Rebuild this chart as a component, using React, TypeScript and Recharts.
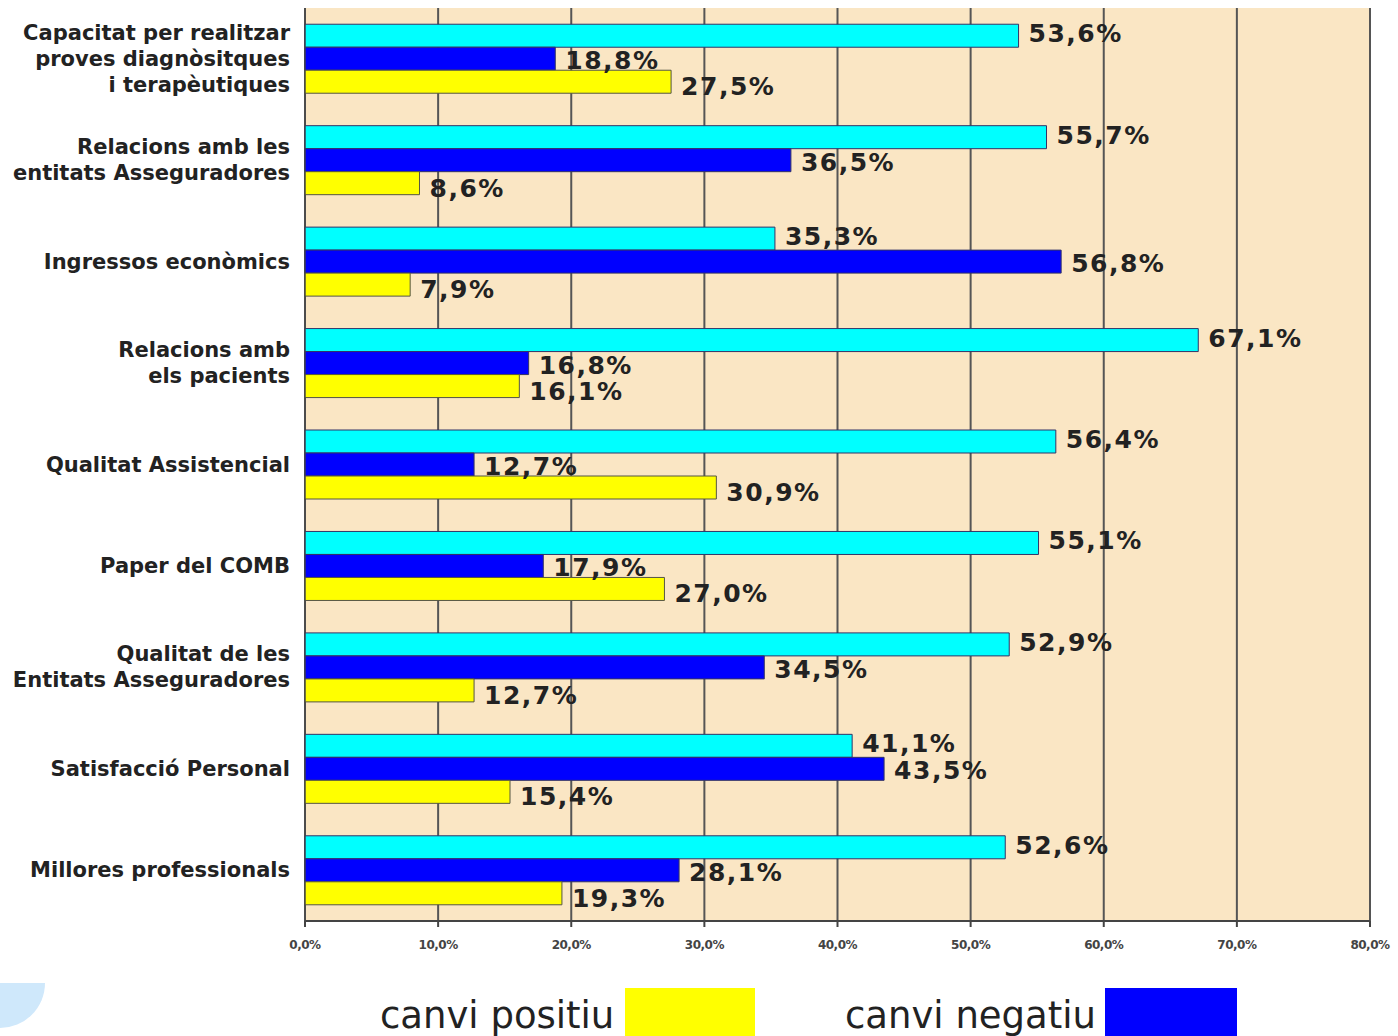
import React from 'react'
import { BarChart, Bar, XAxis, YAxis, CartesianGrid, LabelList } from 'recharts'

const categories = [
  'Capacitat per realitzar\nproves diagnòsitques\ni terapèutiques',
  'Relacions amb les\nentitats Asseguradores',
  'Ingressos econòmics',
  'Relacions amb\nels pacients',
  'Qualitat Assistencial',
  'Paper del COMB',
  'Qualitat de les\nEntitats Asseguradores',
  'Satisfacció Personal',
  'Millores professionals'
]

const senseCanvi = [53.6, 55.7, 35.3, 67.1, 56.4, 55.1, 52.9, 41.1, 52.6]
const canviNegatiu = [18.8, 36.5, 56.8, 16.8, 12.7, 17.9, 34.5, 43.5, 28.1]
const canviPositiu = [27.5, 8.6, 7.9, 16.1, 30.9, 27.0, 12.7, 15.4, 19.3]

const xTicks = [0, 10, 20, 30, 40, 50, 60, 70, 80]

const data = categories.map((name, i) => ({
  name,
  sense: senseCanvi[i],
  negatiu: canviNegatiu[i],
  positiu: canviPositiu[i]
}))

const pct = (v: number) => `${v.toFixed(1).replace('.', ',')}%`

// bar-end value label, dy nudges the whole series a bit like the original
const makeLabel = (dy: number) => (props: any) => {
  const { x, y, width, height, value } = props
  return (
    <text
      x={x + width + 10}
      y={y + height / 2 + dy}
      dominantBaseline="central"
      fontSize={25}
      fontWeight="bold"
      letterSpacing={1.5}
      fill="#222"
    >
      {pct(value)}
    </text>
  )
}

const CyanLabel = makeLabel(-2)
const BlueLabel = makeLabel(2)
const YellowLabel = makeLabel(5)

const CategoryTick = (props: any) => {
  const { y, payload } = props
  const lines = String(payload.value).split('\n')
  const lh = 26
  const top = y - ((lines.length - 1) * lh) / 2
  return (
    <text x={290} y={top} textAnchor="end" fontSize={21} fontWeight="bold" fill="#222">
      {lines.map((l, i) => (
        <tspan key={i} x={290} y={top + i * lh} dominantBaseline="central">
          {l}
        </tspan>
      ))}
    </text>
  )
}

const PctTick = (props: any) => {
  const { x, y, payload } = props
  return (
    <text x={x} y={y + 20} textAnchor="middle" fontSize={12} fontWeight="bold" letterSpacing={-0.5} fill="#444">
      {pct(payload.value)}
    </text>
  )
}

export default function App() {
  return (
    <div
      style={{
        position: 'absolute',
        left: 0,
        top: 0,
        width: 1398,
        height: 1036,
        background: '#fff',
        fontFamily: '"DejaVu Sans", sans-serif',
        overflow: 'hidden'
      }}
    >
      {/* light blue corner decoration */}
      <div
        style={{
          position: 'absolute',
          left: -45,
          top: 938,
          width: 90,
          height: 90,
          borderRadius: '50%',
          clipPath: 'inset(50% 0 0 50%)',
          background: '#cfe8fb'
        }}
      />
      <BarChart
        width={1398}
        height={1036}
        data={data}
        layout="vertical"
        margin={{ top: 8, right: 28, left: 5, bottom: 75 }}
        barCategoryGap="16%"
        barGap={0}
      >
        <CartesianGrid horizontal={false} fill="#fae6c4" stroke="#555" strokeWidth={2} />
        <XAxis
          type="number"
          domain={[0, 80]}
          ticks={xTicks}
          height={40}
          stroke="#444"
          strokeWidth={2}
          tickSize={6}
          tick={<PctTick />}
          interval={0}
        />
        <YAxis
          type="category"
          dataKey="name"
          width={300}
          stroke="#444"
          tickLine={false}
          tick={<CategoryTick />}
          interval={0}
        />
        <Bar dataKey="sense" name="sense canvi" fill="#00ffff" stroke="#336" strokeWidth={1} isAnimationActive={false}>
          <LabelList dataKey="sense" content={<CyanLabel />} />
        </Bar>
        <Bar dataKey="negatiu" name="canvi negatiu" fill="#0000ff" stroke="#336" strokeWidth={1} isAnimationActive={false}>
          <LabelList dataKey="negatiu" content={<BlueLabel />} />
        </Bar>
        <Bar dataKey="positiu" name="canvi positiu" fill="#ffff00" stroke="#554" strokeWidth={1} isAnimationActive={false}>
          <LabelList dataKey="positiu" content={<YellowLabel />} />
        </Bar>
      </BarChart>
      <div style={{ position: 'absolute', left: 380, top: 992, fontSize: 37, color: '#222', lineHeight: '48px' }}>
        canvi positiu
      </div>
      <div style={{ position: 'absolute', left: 625, top: 988, width: 130, height: 50, background: '#ffff00' }} />
      <div style={{ position: 'absolute', left: 845, top: 992, fontSize: 37, color: '#222', lineHeight: '48px' }}>
        canvi negatiu
      </div>
      <div style={{ position: 'absolute', left: 1105, top: 988, width: 132, height: 50, background: '#0000ff' }} />
    </div>
  )
}
